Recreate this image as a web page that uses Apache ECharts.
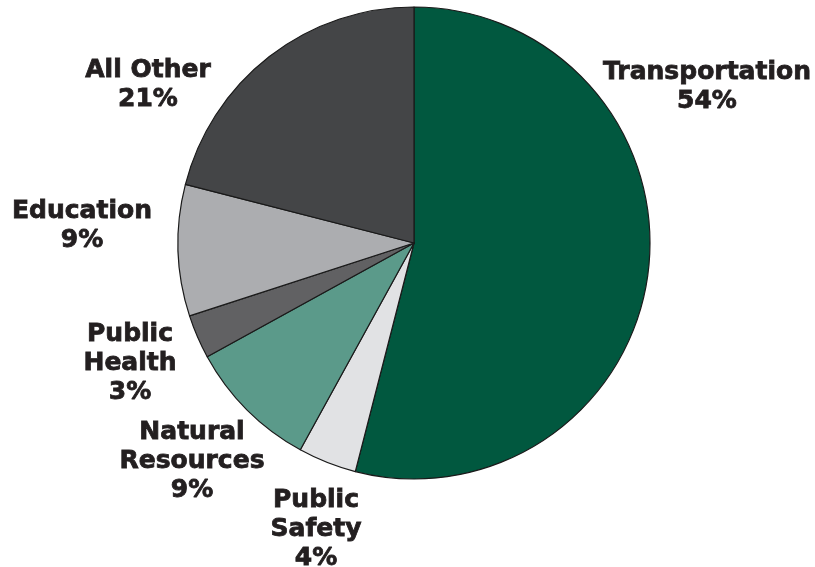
<!DOCTYPE html>
<html><head><meta charset="utf-8">
<script src="https://cdn.jsdelivr.net/npm/echarts@6/dist/echarts.min.js"></script>
<style>html,body{margin:0;padding:0;background:#fff}#c{width:815px;height:567px}</style>
</head><body><div id="c"></div>
<script>
const categories = ["Transportation", "Public\nSafety", "Natural\nResources", "Public\nHealth", "Education", "All Other"];
const values = [54, 4, 9, 3, 9, 21];
const colors = ["#01583f", "#e1e2e4", "#5b9a8a", "#616163", "#acadb0", "#444547"];
// label anchor points (layout only)
const labelAnchors = [[707, 87], [316, 529], [192, 461], [130, 363], [82, 226], [148, 85]];

const chart = echarts.init(document.getElementById('c'), null, {renderer: 'canvas'});
chart.setOption({
  animation: false,
  series: [{
    type: 'pie',
    center: [414, 243],
    radius: [0, 236],
    startAngle: 90,
    clockwise: true,
    avoidLabelOverlap: false,
    itemStyle: {borderColor: '#1a1a1a', borderWidth: 1.2},
    label: {
      show: true,
      position: 'outside',
      formatter: p => p.name + '\n' + p.value + '%',
      fontFamily: 'DejaVu Sans',
      fontWeight: 'bold',
      fontSize: 25,
      lineHeight: 29,
      color: '#231f20',
      textBorderColor: '#231f20',
      textBorderWidth: 0.8,
      align: 'center'
    },
    labelLine: {show: false},
    labelLayout: p => ({x: labelAnchors[p.dataIndex][0], y: labelAnchors[p.dataIndex][1], align: 'center', verticalAlign: 'middle'}),
    emphasis: {disabled: true},
    data: categories.map((c, i) => ({name: c, value: values[i], itemStyle: {color: colors[i]}}))
  }]
});
</script></body></html>
